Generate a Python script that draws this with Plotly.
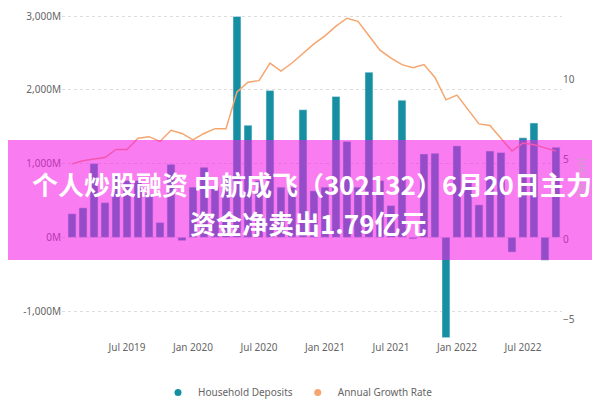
import plotly.graph_objects as go

months = ["2019-02","2019-03","2019-04","2019-05","2019-06","2019-07","2019-08","2019-09","2019-10","2019-11","2019-12",
          "2020-01","2020-02","2020-03","2020-04","2020-05","2020-06","2020-07","2020-08","2020-09","2020-10","2020-11","2020-12",
          "2021-01","2021-02","2021-03","2021-04","2021-05","2021-06","2021-07","2021-08","2021-09","2021-10","2021-11","2021-12",
          "2022-01","2022-02","2022-03","2022-04","2022-05","2022-06","2022-07","2022-08","2022-09","2022-10"]
deposits = [320,400,1000,470,850,770,770,590,200,990,-45,
            680,950,680,810,2995,1520,770,1990,680,680,1730,630,
            680,1910,1300,680,2240,770,430,1860,-20,1130,1140,-1360,
            1240,770,440,1170,1150,-200,1350,1550,-310,1220]
growth = [4.7,4.9,5.0,5.1,5.6,5.6,6.3,6.4,6.1,6.8,6.6,
          6.2,6.6,6.9,6.9,9.2,9.8,9.9,11.0,10.5,11.0,11.6,12.2,
          12.7,13.3,13.8,13.6,12.7,11.8,11.3,10.9,10.7,10.9,10.1,8.7,
          9.0,8.1,7.2,7.1,6.3,5.5,6.0,5.9,5.7,5.5]
tick_labels = ["Jul 2019","Jan 2020","Jul 2020","Jan 2021","Jul 2021","Jan 2022","Jul 2022"]
tick_months = ["2019-07","2020-01","2020-07","2021-01","2021-07","2022-01","2022-07"]
title_line1 = "个人炒股融资 中航成飞（302132）6月20日主力"
title_line2 = "资金净卖出1.79亿元"

idx = list(range(len(months)))
tickvals = [months.index(m) for m in tick_months]
gray = "#666"
teal = "#168fa3"
orange = "#f5a56e"

L, T, B = 54, 7, 68
H = 400 - T - B
def py(page_y):
    return (400 - B - (page_y - 8)) / H
def px(page_x):
    return (page_x - L) / 500

fig = go.Figure()
fig.add_trace(go.Bar(x=idx, y=deposits, name="Household Deposits", marker_color=teal, width=0.72, showlegend=False))
fig.add_trace(go.Scatter(x=idx, y=growth, name="Annual Growth Rate", yaxis="y2", mode="lines",
                         line=dict(color=orange, width=1.5), showlegend=False))
fig.add_trace(go.Scatter(x=[None], y=[None], mode="markers", name="Household Deposits",
                         marker=dict(color=teal, size=7)))
fig.add_trace(go.Scatter(x=[None], y=[None], mode="markers", name="Annual Growth Rate",
                         marker=dict(color=orange, size=7)))
fig.update_layout(
    width=600, height=400, margin=dict(l=L, r=46, t=T, b=B, autoexpand=False),
    paper_bgcolor="white", plot_bgcolor="white",
    font=dict(family="Noto Sans", color=gray, size=10),
    showlegend=True,
    legend=dict(orientation="h", x=px(290), xanchor="center", y=py(378), yanchor="top",
                font=dict(size=10, color=gray), itemwidth=30, tracegroupgap=0),
    xaxis=dict(range=[-0.91, 44.55], tickvals=tickvals, ticktext=tick_labels, showgrid=False, zeroline=False,
               tickfont=dict(size=10, color=gray), automargin=False),
    yaxis=dict(range=[-1392, 3015], tickvals=[-1000, 0, 1000, 2000, 3000],
               ticktext=["-1,000M", "0M", "1,000M", "2,000M", "3,000M"],
               gridcolor="#ddd", griddash="dot", zeroline=False, tickfont=dict(size=10, color=gray), automargin=False),
    yaxis2=dict(range=[-6.3, 14.0], overlaying="y", side="right", tickvals=[-5, 0, 5, 10],
                showgrid=False, zeroline=False, tickfont=dict(size=10, color=gray), automargin=False,
                title=dict(text="Per Cent", font=dict(size=10, color="#c9a0c9"), standoff=4)),
)
fig.add_shape(type="rect", xref="paper", yref="paper", x0=-0.3, x1=1.3, y0=py(260), y1=py(140),
              fillcolor="rgba(245,25,228,0.57)", line_width=0, layer="above")
tfont = dict(family="Noto Sans CJK SC", size=26, color="white", weight="bold")
fig.add_annotation(xref="paper", yref="paper", x=px(304), y=py(183), text=title_line1, showarrow=False,
                   font=tfont, xanchor="center", yanchor="middle")
fig.add_annotation(xref="paper", yref="paper", x=px(300), y=py(222), text=title_line2, showarrow=False,
                   font=tfont, xanchor="center", yanchor="middle")
fig.write_html("out.html")
